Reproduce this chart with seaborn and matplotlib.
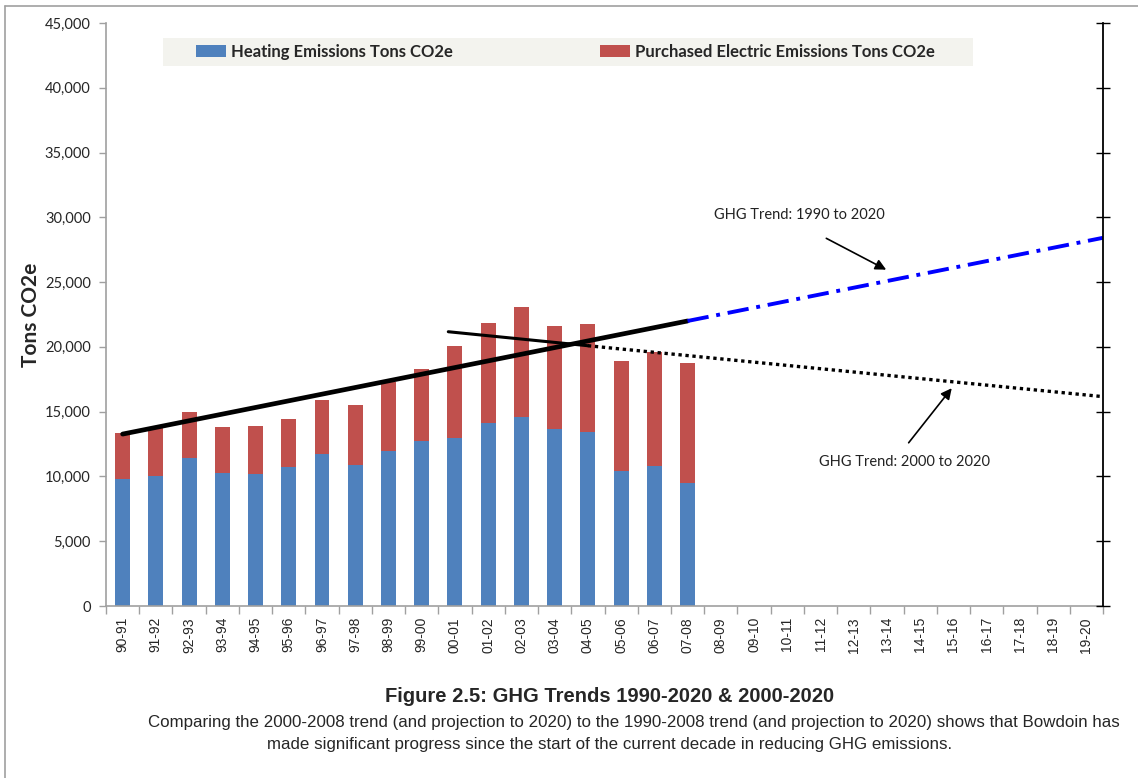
"""
GHG trend chart: stacked heating / purchased electric emissions with two trend lines
"""

import numpy as np
import pandas as pd
import matplotlib
matplotlib.use("Agg")
import matplotlib.pyplot as plt
from matplotlib.patches import Patch, Rectangle
from matplotlib.lines import Line2D
import seaborn as sns

# fiscal years on the x axis
years = ["90-91", "91-92", "92-93", "93-94", "94-95", "95-96", "96-97", "97-98",
         "98-99", "99-00", "00-01", "01-02", "02-03", "03-04", "04-05", "05-06",
         "06-07", "07-08", "08-09", "09-10", "10-11", "11-12", "12-13", "13-14",
         "14-15", "15-16", "16-17", "17-18", "18-19", "19-20"]

# measured years only (90-91 .. 07-08)
heating = [9800, 10060, 11450, 10270, 10210, 10730, 11760, 10880, 11960,
           12740, 12990, 14120, 14590, 13660, 13450, 10420, 10830, 9490]
electric = [3530, 3680, 3520, 3550, 3680, 3700, 4140, 4630, 5350,
            5550, 7080, 7720, 8510, 7950, 8320, 8490, 8800, 9290]

# trend lines: (category position, tons)
trend_1990_pos = [0, 17, 29.5]
trend_1990_val = [13270, 22000, 28420]
trend_2000_pos = [9.8, 14, 29.5]
trend_2000_val = [21170, 20090, 16160]

BLUE = "#4f81bd"
RED = "#c0504d"

sns.set_theme(style="white")
plt.rcParams["font.family"] = ["Lato", "DejaVu Sans"]

n = len(heating)
df = pd.DataFrame({
    "year": years[:n],
    "heating": heating,
    "total": np.array(heating) + np.array(electric),
})

fig = plt.figure(figsize=(11.38, 7.78), dpi=100)
ax = fig.add_axes([106 / 1138, 1 - 606 / 778, 997 / 1138, 583 / 778])

sns.barplot(data=df, x="year", y="total", order=years, color=RED,
            width=0.45, saturation=1, linewidth=0, ax=ax)
sns.barplot(data=df, x="year", y="heating", order=years, color=BLUE,
            width=0.45, saturation=1, linewidth=0, ax=ax)

# trend lines
ax.plot(trend_1990_pos[:2], trend_1990_val[:2], color="black", lw=3.4,
        solid_capstyle="round", zorder=5)
ax.plot(trend_1990_pos[1:], trend_1990_val[1:], color="#0000ff", lw=2.8,
        dashes=(5.5, 2, 1, 2), zorder=5)
ax.plot(trend_2000_pos[:2], trend_2000_val[:2], color="black", lw=2.2,
        solid_capstyle="round", zorder=5)
ax.plot(trend_2000_pos[1:], trend_2000_val[1:], color="black", lw=2.4,
        dashes=(1, 1.1), zorder=5)

ax.set_xlim(-0.5, 29.5)
ax.set_ylim(0, 45000)
ax.set_yticks(np.arange(0, 45001, 5000))
ax.set_yticklabels([f"{v:,}" for v in range(0, 45001, 5000)], fontsize=10.5)
ax.set_xticks(range(len(years)))
ax.set_xticklabels(years, rotation=90, fontsize=10,
                   family=["Liberation Sans", "DejaVu Sans"])
ax.set_xticks(np.arange(-0.5, 30, 1), minor=True)
ax.tick_params(axis="x", which="major", length=0, pad=8)
ax.tick_params(axis="x", which="minor", length=6, color="#a0a0a0", width=1,
               direction="out", bottom=True)
ax.tick_params(axis="y", length=5, color="#a0a0a0", width=1, direction="out",
               left=True, pad=6)
ax.set_xlabel("")
ax.set_ylabel("Tons CO2e", fontsize=15, fontweight="bold", labelpad=3)

for side in ["left", "bottom"]:
    ax.spines[side].set_color("#a0a0a0")
    ax.spines[side].set_linewidth(1.2)
ax.spines["top"].set_visible(False)
ax.spines["right"].set_visible(False)

# secondary right axis (black, ticks across, no labels)
ax2 = ax.twinx()
ax2.set_ylim(0, 45000)
ax2.set_yticks(np.arange(0, 45001, 5000))
ax2.set_yticklabels([])
ax2.tick_params(axis="y", length=10, direction="inout", color="black", width=1)
for side in ["left", "bottom", "top"]:
    ax2.spines[side].set_visible(False)
ax2.spines["right"].set_color("black")
ax2.spines["right"].set_linewidth(1.3)

# annotations
ax.annotate("", xy=(23.05, 25860), xytext=(21.1, 28480),
            arrowprops=dict(arrowstyle="-|>", color="black", lw=1.2,
                            mutation_scale=16), zorder=6)
ax.text(17.8, 30180, "GHG Trend: 1990 to 2020", fontsize=10.5,
        va="center", ha="left", color="#222222")
ax.annotate("", xy=(25.0, 16980), xytext=(23.6, 12430),
            arrowprops=dict(arrowstyle="-|>", color="black", lw=1.2,
                            mutation_scale=16), zorder=6)
ax.text(20.95, 11110, "GHG Trend: 2000 to 2020", fontsize=10.5,
        va="center", ha="left", color="#222222")

# legend box
ax.add_patch(Rectangle((0.057, 0.926), 0.813, 0.048, transform=ax.transAxes,
                       facecolor="#f3f3ee", edgecolor="none", zorder=3))
handles = [Patch(facecolor=BLUE, edgecolor="none"),
           Patch(facecolor=RED, edgecolor="none")]
labels = ["Heating Emissions Tons CO2e", "Purchased Electric Emissions Tons CO2e"]
leg = ax.legend(handles, labels, ncol=2, loc="center left",
                bbox_to_anchor=(0.0903, 0.950), borderaxespad=0, borderpad=0,
                frameon=False, handlelength=1.8, handleheight=0.75,
                handletextpad=0.3, columnspacing=8.8,
                prop={"weight": "bold", "size": 12})
leg.set_zorder(4)

# caption
fig.text(610 / 1138, 1 - 697 / 778, "Figure 2.5: GHG Trends 1990-2020 & 2000-2020",
         ha="center", va="center", fontsize=14.5, fontweight="bold",
         family=["Liberation Sans", "DejaVu Sans"])
fig.text(634 / 1138, 1 - 722 / 778,
         "Comparing the 2000-2008 trend (and projection to 2020) to the 1990-2008 trend "
         "(and projection to 2020) shows that Bowdoin has",
         ha="center", va="center", fontsize=12.2,
         family=["Liberation Sans", "DejaVu Sans"])
fig.text(610 / 1138, 1 - 744 / 778,
         "made significant progress since the start of the current decade in reducing GHG emissions.",
         ha="center", va="center", fontsize=12.2,
         family=["Liberation Sans", "DejaVu Sans"])

# outer frame (left and top edges visible)
fig.add_artist(Line2D([5 / 1138, 5 / 1138], [0, 1 - 6 / 778],
                      transform=fig.transFigure, color="#a0a0a0", lw=1.2))
fig.add_artist(Line2D([5 / 1138, 1], [1 - 6 / 778, 1 - 6 / 778],
                      transform=fig.transFigure, color="#a0a0a0", lw=1.2))

fig.savefig("out.png", dpi=100, facecolor="white")
plt.close(fig)
